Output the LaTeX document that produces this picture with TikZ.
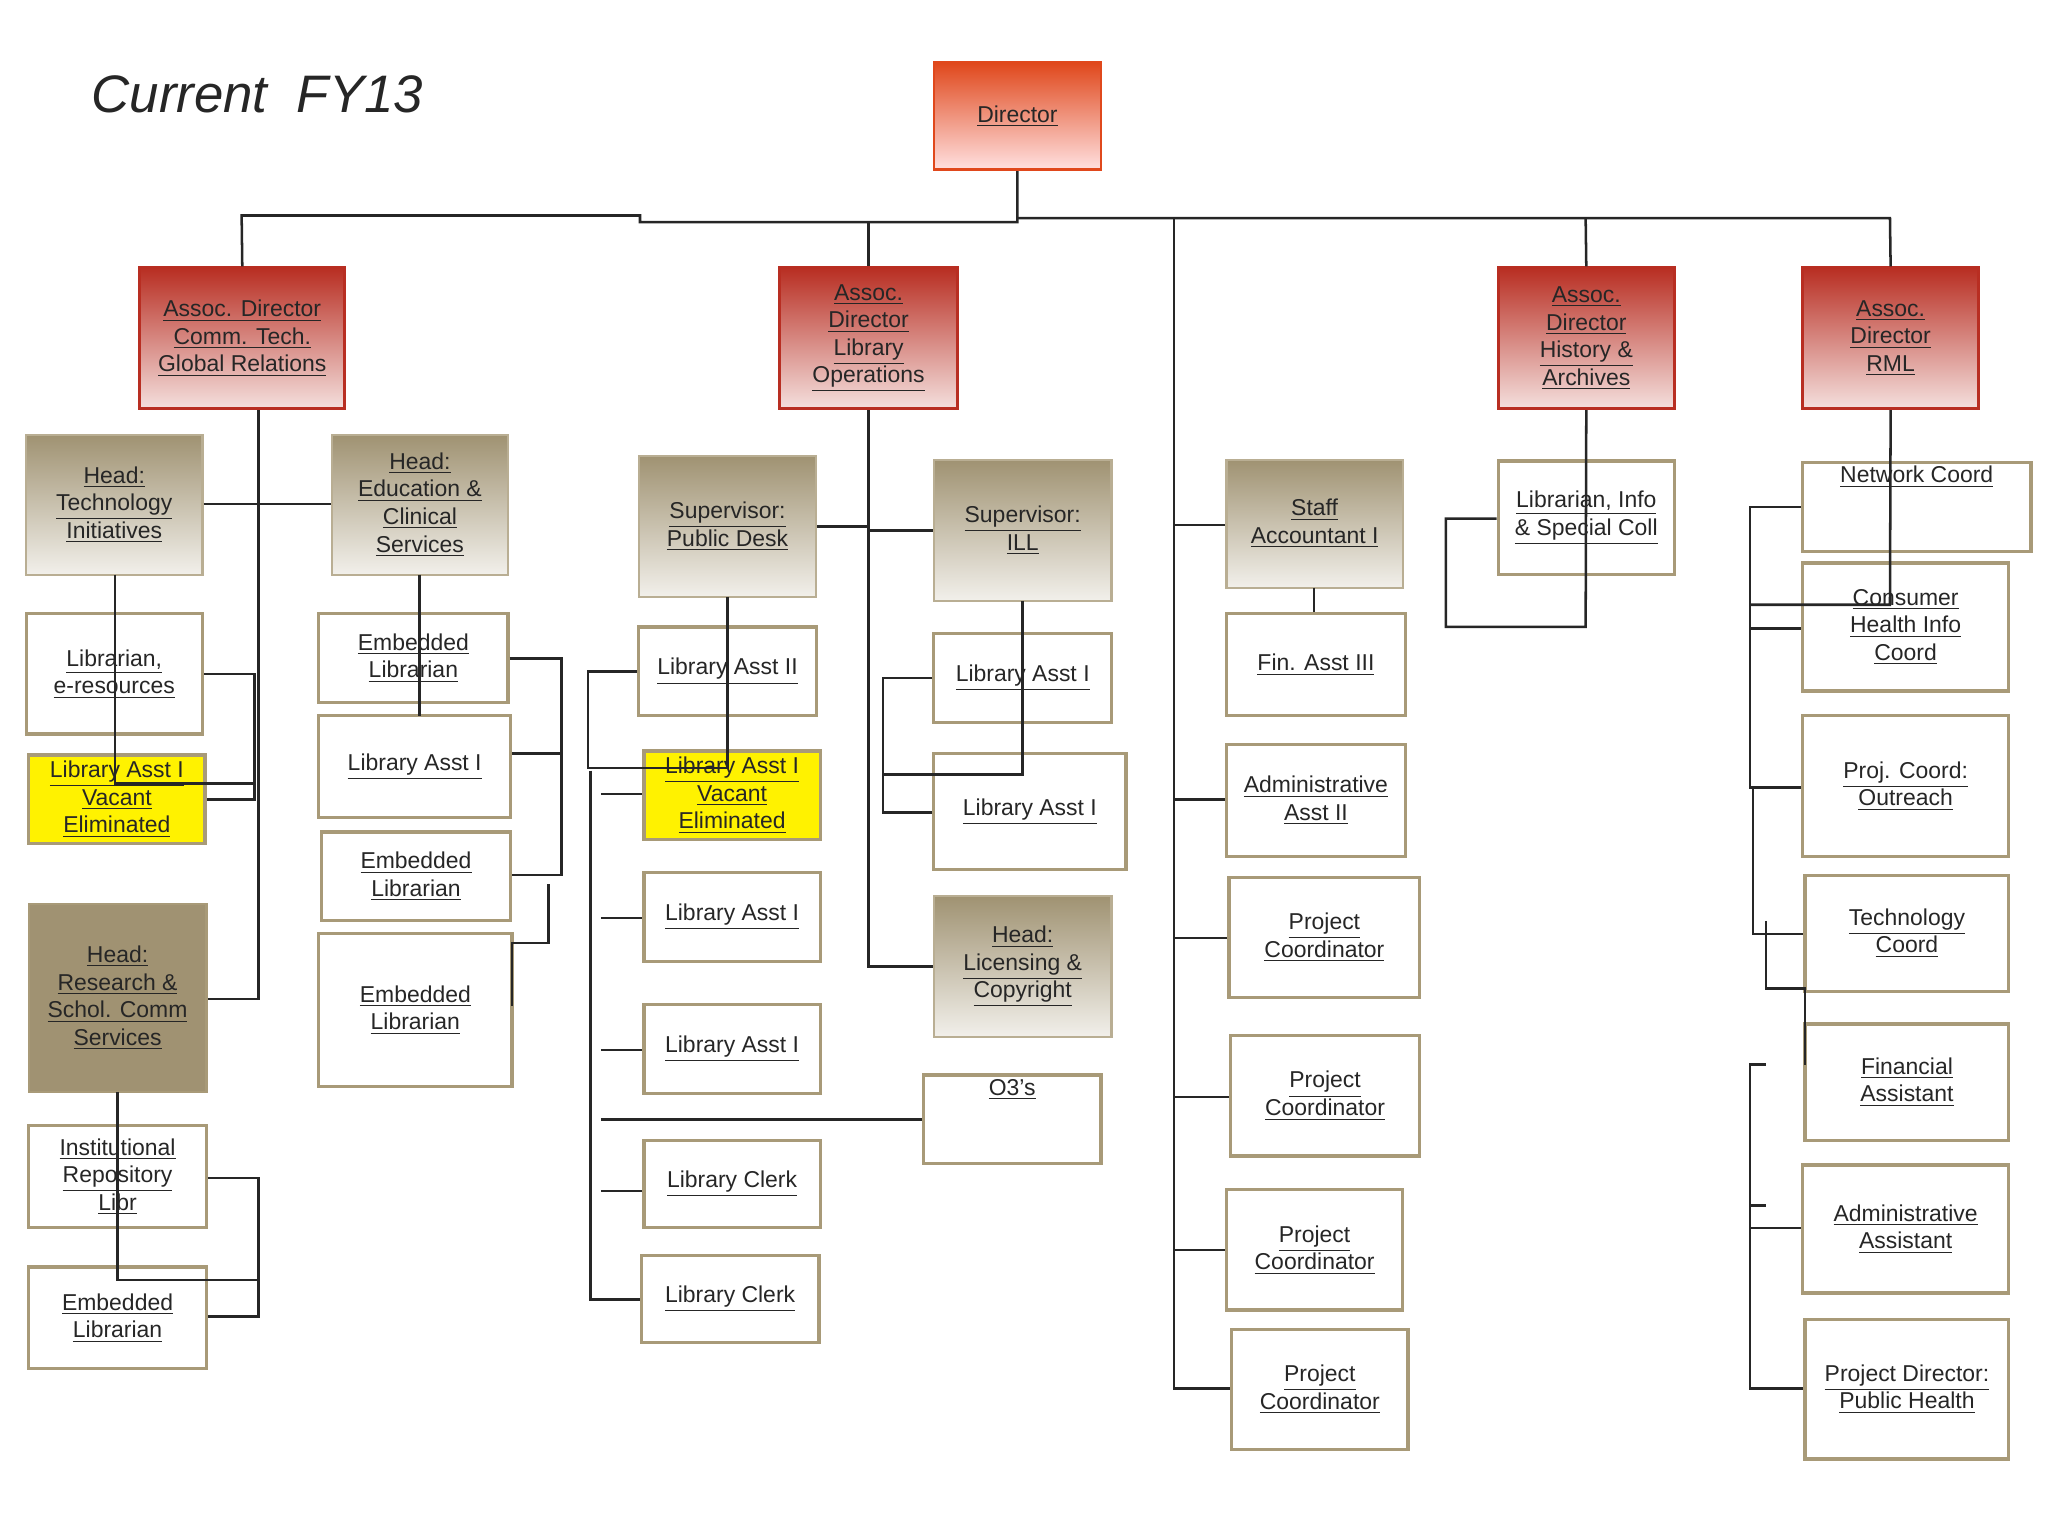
\documentclass[tikz,border=0pt]{standalone}
\usepackage{fontspec}
\setmainfont{Liberation Sans}
\usetikzlibrary{fit}
\definecolor{tanb}{HTML}{A89A78}
\definecolor{redb}{HTML}{B82E22}
\definecolor{dirc}{HTML}{E0481C}
\newcommand\myu[1]{\underline{#1}}
\newcommand\B[7][plain]{\node[#1,fit={(#3,#4)(#5,#6)},inner sep=0pt] (#2) {};\node[txt] at (#2.center) {#7};}
\begin{document}
\begin{tikzpicture}[x=0.02cm,y=-0.02cm,
  every node/.style={font=\fontsize{10}{12}\selectfont,align=center,text=black!85},
  txt/.style={inner sep=0pt},
  plain/.style={draw=tanb,line width=1.4pt,fill=white},
  yel/.style={draw=tanb,line width=1.4pt,fill=yellow},
  head/.style={draw=tanb!80,line width=1pt,top color=tanb!95!black,bottom color=tanb!15},
  dark/.style={draw=tanb,line width=1pt,fill=tanb!95!black},
  assoc/.style={draw=redb,line width=1.2pt,top color=redb,bottom color=redb!15},
  dir/.style={draw=dirc,line width=1.2pt,top color=dirc,bottom color=red!12},
  ln/.style={line width=1.1pt,black!85}]
\useasboundingbox (0,0) rectangle (1568,1176);
\node[anchor=west,font=\fontsize{23}{28}\selectfont\itshape] (title) at (64,72) {Current\ \ FY13};
\B[dir]{dir}{715}{48}{843}{130}{\myu{Director}}
\B[assoc]{a1}{107}{205}{264}{313}{\myu{Assoc. Director}\\\myu{Comm. Tech.}\\\myu{Global Relations}}
\B[assoc]{a2}{597}{205}{733}{313}{\myu{Assoc.}\\\myu{Director}\\\myu{Library}\\\myu{Operations}}
\B[assoc]{a3}{1147}{205}{1282}{313}{\myu{Assoc.}\\\myu{Director}\\\myu{History \&}\\\myu{Archives}}
\B[assoc]{a4}{1380}{205}{1515}{313}{\myu{Assoc.}\\\myu{Director}\\\myu{RML}}
% top lines
\draw[ln] (dir.south) -- (779,170) -- (490,170) -- (490,165) -- (185,165) -- (a1.north);
\draw[ln] (665,170) -- (a2.north);
\draw[ln] (779,167) -- (1447,167) -- (a4.north);
\draw[ln] (1214,167) -- (a3.north);
% column 1
\B[head]{ht}{20}{333}{155}{440}{\myu{Head:}\\\myu{Technology}\\\myu{Initiatives}}
\B[head]{he}{254}{333}{389}{440}{\myu{Head:}\\\myu{Education \&}\\\myu{Clinical}\\\myu{Services}}
\B{le}{20}{470}{155}{562}{\myu{Librarian,}\\\myu{e-resources}}
\B[yel]{y1}{22}{578}{157}{646}{\myu{Library Asst I}\\\myu{Vacant}\\\myu{Eliminated}}
\B[dark]{hr}{22}{692}{158}{836}{\myu{Head:}\\\myu{Research \&}\\\myu{Schol. Comm}\\\myu{Services}}
\B{ir}{22}{862}{158}{940}{\myu{Institutional}\\\myu{Repository}\\\myu{Libr}}
\B{e1}{22}{970}{158}{1048}{\myu{Embedded}\\\myu{Librarian}}
\draw[ln] (a1.south -| 198,0) -- (198,765) -- (hr.east |- 0,765);
\draw[ln] (ht.east |- 0,386) -- (he.west |- 0,386);
\draw[ln] (88,440) -- (88,600) -- (195,600);
\draw[ln] (le.east |- 0,516) -- (195,516) -- (195,612) -- (y1.east |- 0,612);
\draw[ln] (90,836) -- (90,980) -- (198,980);
\draw[ln] (ir.east |- 0,902) -- (198,902) -- (198,1008) -- (e1.east |- 0,1008);
% column 2
\B{e2}{244}{470}{389}{538}{\myu{Embedded}\\\myu{Librarian}}
\B{l2}{244}{548}{391}{626}{\myu{Library Asst I}}
\B{e3}{246}{637}{391}{705}{\myu{Embedded}\\\myu{Librarian}}
\B{e4}{244}{715}{392}{832}{\myu{Embedded}\\\myu{Librarian}}
\draw[ln] (321,440) -- (321,548);
\draw[ln] (e2.east |- 0,504) -- (430,504) -- (430,670) -- (e3.east |- 0,670);
\draw[ln] (l2.east |- 0,577) -- (430,577);
\draw[ln] (420,677) -- (420,722) -- (392,722) -- (392,770);
% column 3
\B[head]{sp}{489}{349}{625}{457}{\myu{Supervisor:}\\\myu{Public Desk}}
\B{l3}{489}{480}{625}{548}{\myu{Library Asst II}}
\B[yel]{y3}{493}{575}{628}{643}{\myu{Library Asst I}\\\myu{Vacant}\\\myu{Eliminated}}
\B{l4}{493}{668}{628}{736}{\myu{Library Asst I}}
\B{l5}{493}{769}{628}{837}{\myu{Library Asst I}}
\B{c1}{493}{873}{628}{940}{\myu{Library Clerk}}
\B{c2}{491}{961}{627}{1028}{\myu{Library Clerk}}
\B{o3}{707}{823}{843}{891}{\myu{O3's}\\[16pt]}
\B[head]{si}{715}{352}{851}{460}{\myu{Supervisor:}\\\myu{ILL}}
\B{l6}{715}{485}{851}{553}{\myu{Library Asst I}}
\B{l7}{715}{577}{862}{666}{\myu{Library Asst I}}
\B[head]{hl}{715}{686}{851}{794}{\myu{Head:}\\\myu{Licensing \&}\\\myu{Copyright}}
\draw[ln] (a2.south) -- (665,740) -- (hl.west |- 0,740);
\draw[ln] (sp.east |- 0,403) -- (665,403);
\draw[ln] (665,406) -- (si.west |- 0,406);
\draw[ln] (557,457) -- (557,588) -- (450,588) -- (450,514) -- (l3.west |- 0,514);
\draw[ln] (452,590) -- (452,995) -- (c2.west |- 0,995);
\draw[ln] (460,608) -- (y3.west |- 0,608);
\draw[ln] (460,703) -- (l4.west |- 0,703);
\draw[ln] (460,804) -- (l5.west |- 0,804);
\draw[ln] (460,857) -- (o3.west |- 0,857);
\draw[ln] (460,912) -- (c1.west |- 0,912);
\draw[ln] (783,460) -- (783,593) -- (676,593);
\draw[ln] (l6.west |- 0,519) -- (676,519) -- (676,622) -- (l7.west |- 0,622);
% column 4
\B[head]{sa}{939}{352}{1074}{450}{\myu{Staff}\\\myu{Accountant I}}
\B{fa}{939}{470}{1076}{548}{\myu{Fin. Asst III}}
\B{aa}{939}{570}{1076}{656}{\myu{Administrative}\\\myu{Asst II}}
\B{p1}{941}{672}{1087}{764}{\myu{Project}\\\myu{Coordinator}}
\B{p2}{942}{793}{1087}{885}{\myu{Project}\\\myu{Coordinator}}
\B{p3}{939}{911}{1074}{1003}{\myu{Project}\\\myu{Coordinator}}
\B{p4}{943}{1018}{1078}{1110}{\myu{Project}\\\myu{Coordinator}}
\draw[ln] (899,167) -- (899,1063) -- (p4.west |- 0,1063);
\draw[ln] (899,402) -- (sa.west |- 0,402);
\draw[ln] (899,612) -- (aa.west |- 0,612);
\draw[ln] (899,718) -- (p1.west |- 0,718);
\draw[ln] (899,840) -- (p2.west |- 0,840);
\draw[ln] (899,957) -- (p3.west |- 0,957);
\draw[ln] (1006,450) -- (fa.north -| 1006,0);
% column 5
\B{li}{1147}{353}{1282}{440}{\myu{Librarian, Info}\\\myu{\& Special Coll}}
\draw[ln] (a3.south) -- (1214,480) -- (1107,480) -- (1107,397) -- (li.west |- 0,397);
% column 6
\B{nc}{1380}{354}{1555}{422}{\myu{Network Coord}\\[16pt]}
\B{ch}{1380}{431}{1538}{529}{\myu{Consumer}\\\myu{Health Info}\\\myu{Coord}}
\B{pc}{1380}{548}{1538}{656}{\myu{Proj. Coord:}\\\myu{Outreach}}
\B{tc}{1382}{670}{1538}{759}{\myu{Technology}\\\myu{Coord}}
\B{fi}{1382}{784}{1538}{873}{\myu{Financial}\\\myu{Assistant}}
\B{ad}{1380}{892}{1538}{990}{\myu{Administrative}\\\myu{Assistant}}
\B{pd}{1382}{1010}{1538}{1117}{\myu{Project Director:}\\\myu{Public Health}}
\draw[ln] (a4.south) -- (1447,463) -- (1340,463);
\draw[ln] (nc.west |- 0,388) -- (1340,388) -- (1340,603) -- (pc.west |- 0,603);
\draw[ln] (1340,481) -- (ch.west |- 0,481);
\draw[ln] (1342,603) -- (1342,715) -- (tc.west |- 0,715);
\draw[ln] (1352,705) -- (1352,757) -- (1382,757) -- (1382,815);
\draw[ln] (1352,815) -- (1340,815) -- (1340,1063) -- (pd.west |- 0,1063);
\draw[ln] (1340,940) -- (ad.west |- 0,940);
\draw[ln] (1340,923) -- (1352,923);
\end{tikzpicture}
\end{document}
